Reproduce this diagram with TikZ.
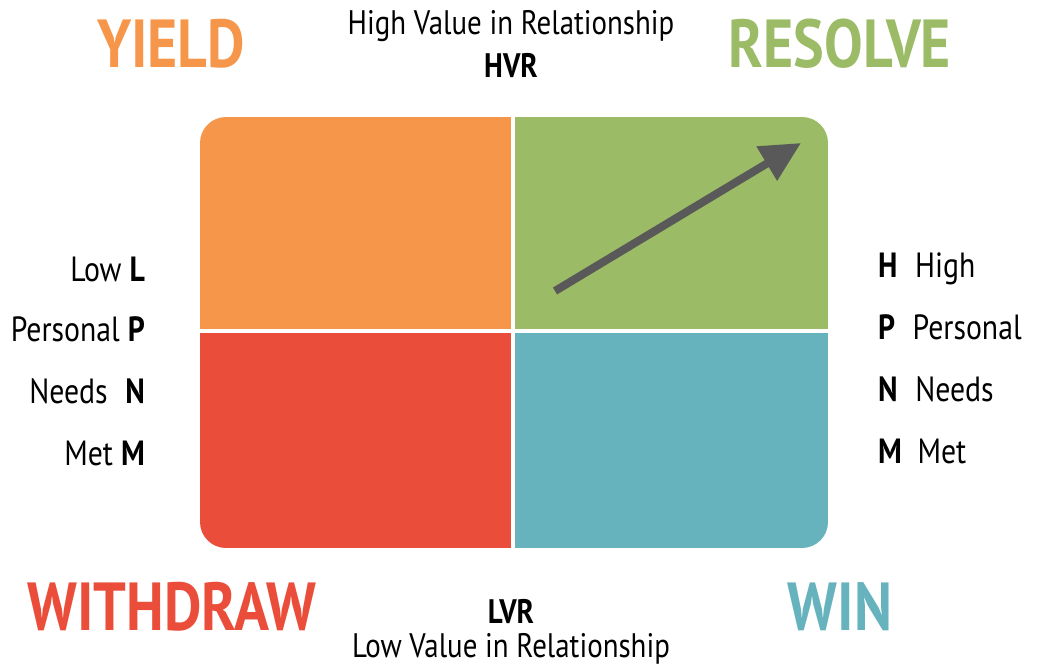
\documentclass[tikz,border=0pt]{standalone}
\usepackage{fontspec}
\setmainfont{PT Sans}[FakeStretch=0.85]
\usetikzlibrary{arrows.meta}
\definecolor{qorange}{HTML}{F5964A}
\definecolor{qgreen}{HTML}{9BBB66}
\definecolor{qred}{HTML}{EA4E3B}
\definecolor{qteal}{HTML}{67B3BD}
\definecolor{qarrow}{HTML}{595959}
\tikzset{
  bigword/.style={font=\fontsize{68}{68}\selectfont\bfseries, inner sep=0pt, anchor=base},
  axislabel/.style={font=\fontsize{34}{34}\selectfont, inner sep=0pt, anchor=base},
  sidelabel/.style={font=\fontsize{35}{35}\selectfont, inner sep=0pt},
}
\begin{document}
\begin{tikzpicture}[x=1pt,y=-1pt]
\useasboundingbox (0,0) rectangle (1038,666);
% quadrants inside one rounded frame
\begin{scope}
  \clip[rounded corners=26pt] (200,117) rectangle (828,548);
  \fill[qorange] (200,117) rectangle (511,329);
  \fill[qgreen]  (515,117) rectangle (828,329);
  \fill[qred]    (200,333) rectangle (511,548);
  \fill[qteal]   (515,333) rectangle (828,548);
\end{scope}
% direction arrow
\coordinate (astart) at (555,291);
\coordinate (aend) at (801,143);
\draw[qarrow, line width=8pt, -{Triangle[length=40pt,width=38pt]}] (astart) -- (aend);
% quadrant names
\node[bigword, text=qorange] (yield) at (171,68) {YIELD};
\node[bigword, text=qgreen] (resolve) at (840,68) {RESOLVE};
\node[bigword, text=qred] (withdraw) at (172,630) {WITHDRAW};
\node[bigword, text=qteal] (win) at (840,630) {WIN};
% vertical axis
\node[axislabel] (hvrtext) at (511,35) {High Value in Relationship};
\node[axislabel, font=\fontsize{34}{34}\selectfont\bfseries] (hvr) at (511,78) {HVR};
\node[axislabel, font=\fontsize{34}{34}\selectfont\bfseries] (lvr) at (511,623) {LVR};
\node[axislabel] (lvrtext) at (511,657) {Low Value in Relationship};
% left labels
\node[sidelabel, anchor=base east] (l1) at (145,281) {Low \textbf{L}};
\node[sidelabel, anchor=base east] (l2) at (145,341) {Personal \textbf{P}};
\node[sidelabel, anchor=base east] (l3) at (145,403) {Needs\enspace\textbf{N}};
\node[sidelabel, anchor=base east] (l4) at (145,465) {Met \textbf{M}};
% right labels
\node[sidelabel, anchor=base west] (r1) at (878,277) {\textbf{H}\enspace High};
\node[sidelabel, anchor=base west] (r2) at (878,339) {\textbf{P}\enspace Personal};
\node[sidelabel, anchor=base west] (r3) at (878,401) {\textbf{N}\enspace Needs};
\node[sidelabel, anchor=base west] (r4) at (878,463) {\textbf{M}\;\,Met};
\end{tikzpicture}
\end{document}
